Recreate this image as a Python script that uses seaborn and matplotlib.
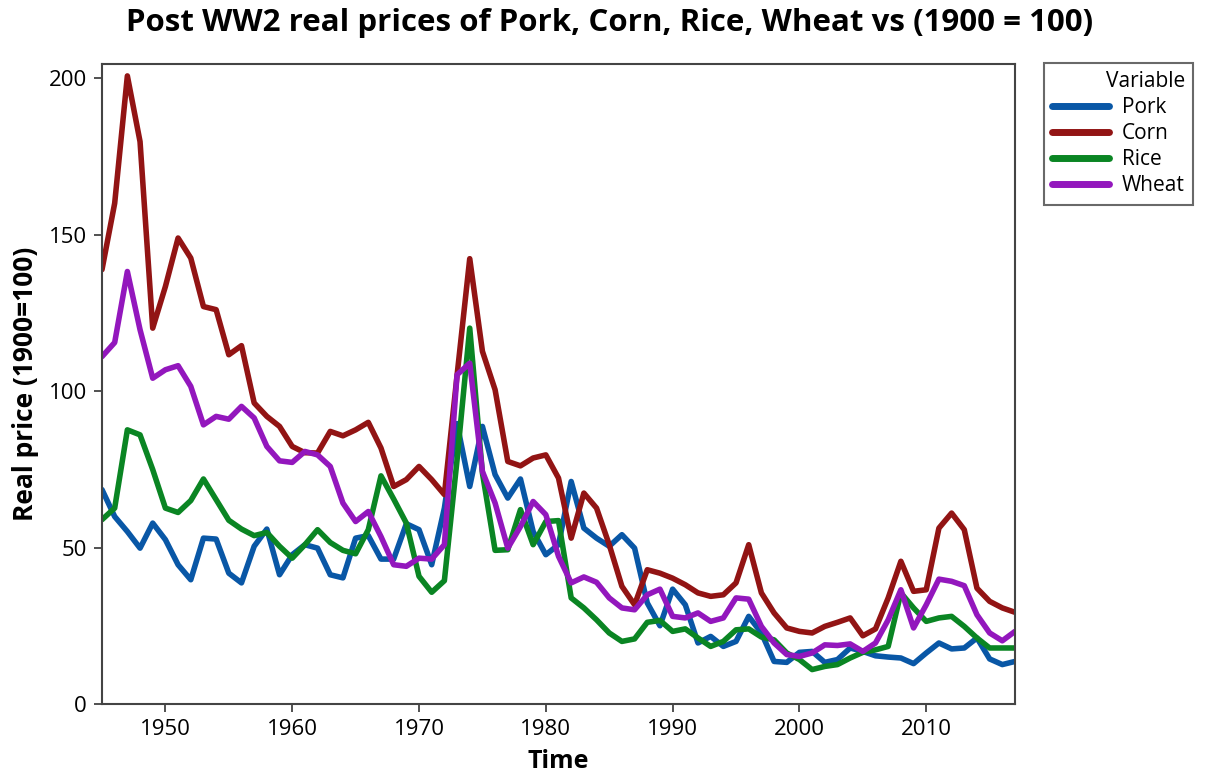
import numpy as np
import pandas as pd
import matplotlib
matplotlib.use("Agg")
import matplotlib.pyplot as plt
import seaborn as sns

years = list(range(1945, 2018))

pork = [68.5, 59.9, 55.1, 49.8, 57.8, 52.5, 44.5, 39.7, 53.0, 52.7,
        41.8, 38.7, 50.4, 55.9, 41.3, 47.7, 50.9, 49.8, 41.3, 40.3,
        53.0, 53.8, 46.3, 46.3, 57.6, 55.7, 44.5, 62.6, 89.6, 69.5,
        88.7, 73.3, 65.8, 71.9, 55.1, 47.7, 50.9, 71.1, 56.2, 53.0,
        50.4, 54.1, 49.8, 32.3, 25.0, 36.7, 31.7, 19.5, 21.6, 18.4,
        20.0, 28.0, 22.7, 13.6, 13.3, 16.5, 16.8, 13.3, 14.2, 17.9,
        16.8, 15.4, 15.0, 14.7, 12.9, 16.3, 19.5, 17.6, 17.9, 21.1,
        14.4, 12.6, 13.6]

corn = [138.8, 160.0, 200.7, 179.7, 120.1, 133.4, 148.9, 142.5, 127.0, 126.0,
        111.6, 114.5, 96.2, 91.9, 88.7, 82.3, 80.3, 80.2, 87.1, 85.7,
        87.6, 90.0, 81.8, 69.5, 71.7, 75.9, 71.7, 66.9, 105.0, 142.3,
        112.7, 100.4, 77.5, 76.1, 78.6, 79.6, 72.2, 53.0, 67.4, 62.6,
        50.9, 37.6, 31.7, 42.9, 41.8, 40.2, 38.1, 35.5, 34.4, 34.9,
        38.7, 50.9, 35.5, 29.1, 24.3, 23.2, 22.7, 24.8, 26.1, 27.5,
        21.8, 24.0, 33.9, 45.6, 36.0, 36.5, 56.2, 61.0, 55.7, 37.0,
        32.8, 30.7, 29.3]

rice = [58.9, 62.6, 87.6, 86.0, 74.9, 62.6, 61.2, 65.0, 71.9, 65.3,
        58.7, 55.9, 53.8, 54.8, 50.4, 46.6, 50.9, 55.7, 51.6, 49.1,
        48.0, 55.7, 72.9, 65.5, 57.8, 40.8, 35.7, 39.4, 78.0, 120.1,
        73.8, 49.1, 49.3, 62.1, 50.9, 58.3, 58.6, 33.9, 30.7, 26.9,
        22.7, 20.0, 20.8, 26.1, 26.7, 23.2, 24.0, 21.1, 18.4, 20.0,
        23.7, 24.0, 21.4, 20.5, 16.3, 14.2, 11.0, 12.0, 12.6, 14.7,
        16.5, 17.3, 18.4, 35.5, 30.7, 26.4, 27.5, 28.0, 24.8, 21.1,
        17.9, 17.9, 17.9]

wheat = [111.0, 115.5, 138.2, 119.6, 104.1, 106.8, 108.1, 101.5, 89.2, 91.9,
         91.0, 95.1, 91.4, 82.3, 77.7, 77.2, 80.7, 79.6, 75.9, 64.2,
         58.3, 61.5, 53.5, 44.5, 44.0, 46.6, 46.3, 50.9, 105.2, 108.9,
         74.3, 64.2, 49.8, 56.7, 64.7, 60.5, 47.2, 38.7, 40.6, 38.9,
         33.9, 30.7, 30.1, 34.9, 36.7, 28.0, 27.5, 29.1, 26.4, 27.5,
         33.9, 33.5, 24.8, 19.5, 15.8, 15.2, 16.3, 18.9, 18.7, 19.2,
         16.8, 19.5, 26.9, 36.5, 24.3, 31.7, 39.9, 39.2, 37.8, 28.5,
         22.7, 20.2, 23.2]

variables = ["Pork", "Corn", "Rice", "Wheat"]
colors = ["#0957A6", "#921414", "#0A8523", "#9317BD"]
x_ticks = [1950, 1960, 1970, 1980, 1990, 2000, 2010]
y_ticks = [0, 50, 100, 150, 200]

df = pd.DataFrame({"Time": years * 4,
                   "Value": pork + corn + rice + wheat,
                   "Variable": sum([[v] * len(years) for v in variables], [])})

sns.set_theme(style="white")
plt.rcParams['font.family'] = ['Open Sans', 'DejaVu Sans']
plt.rcParams['text.color'] = 'black'
plt.rcParams['axes.labelcolor'] = 'black'
plt.rcParams['xtick.color'] = 'black'
plt.rcParams['ytick.color'] = 'black'

fig = plt.figure(figsize=(12.08, 7.74), dpi=100)
ax = fig.add_axes([102 / 1208, 1 - 704 / 774, (1015 - 102) / 1208, (704 - 64) / 774])

sns.lineplot(data=df, x="Time", y="Value", hue="Variable", hue_order=variables,
             palette=colors, linewidth=4.0, ax=ax, legend=True)

ax.set_xlim(1945, 2017)
ax.set_ylim(0, 204.5)
ax.set_xticks(x_ticks)
ax.set_yticks(y_ticks)
ax.tick_params(axis="both", which="major", direction="out", length=6, width=1.2,
               labelsize=16, bottom=True, left=True, pad=5)
ax.tick_params(axis="both", color="#333333", labelcolor="black")
for s in ax.spines.values():
    s.set_color("#444444")
    s.set_linewidth(1.5)

ax.set_xlabel("Time", fontsize=18, fontweight="bold", labelpad=6)
ax.set_ylabel("Real price (1900=100)", fontsize=19, fontweight="bold", labelpad=7)
fig.suptitle("Post WW2 real prices of Pork, Corn, Rice, Wheat vs (1900 = 100)",
             fontsize=22.5, fontweight="bold", y=0.99, x=0.505, color="black")

handles, labels = ax.get_legend_handles_labels()
ax.get_legend().remove()
leg = fig.legend(handles, labels, title="Variable", loc="upper left",
                 bbox_to_anchor=(1044 / 1208, 1 - 63 / 774), borderaxespad=0,
                 fontsize=15, title_fontsize=15, frameon=True, fancybox=False,
                 edgecolor="#444444", handlelength=2.7, borderpad=0.4,
                 labelspacing=0.24, handletextpad=0.65, alignment="right")
leg.get_frame().set_linewidth(1.5)
for line in leg.get_lines():
    line.set_linewidth(5)

fig.savefig("out.png", dpi=100)
